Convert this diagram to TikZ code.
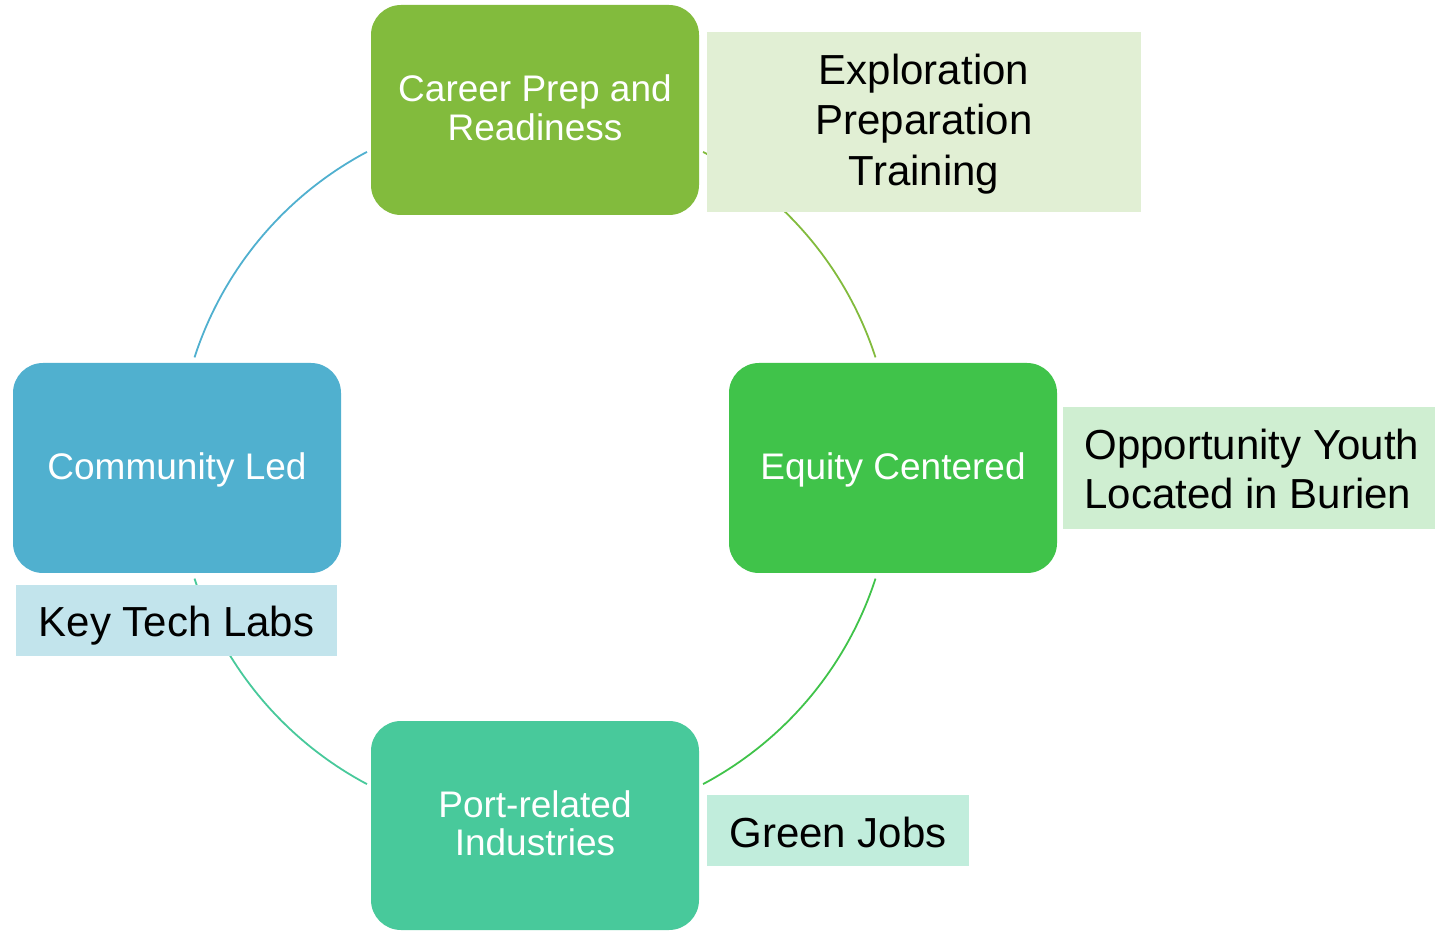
\documentclass[tikz,border=0pt]{standalone}
\usepackage{fontspec}
\setmainfont{Liberation Sans}
\usetikzlibrary{calc}
\definecolor{cCareer}{HTML}{82BB3D}
\definecolor{cComm}{HTML}{50B0CF}
\definecolor{cEquity}{HTML}{40C34A}
\definecolor{cPort}{HTML}{48C99B}
\definecolor{tExpl}{HTML}{E1EFD4}
\definecolor{tOpp}{HTML}{CFEED1}
\definecolor{tKey}{HTML}{C2E4EC}
\definecolor{tGreen}{HTML}{C1EDDC}
\newcommand{\lowerby}[2]{\raisebox{-#1}[\height][\depth]{#2}}
\tikzset{
  mainbox/.style={rectangle, rounded corners=30pt, minimum width=328pt, minimum height=210pt,
    inner sep=0pt, text=white, font=\fontsize{37}{39.5}\selectfont},
  notebox/.style={rectangle, inner sep=0pt, text=black, font=\fontsize{42}{50.6}\selectfont},
  ring/.style={line width=1.8pt}
}
\begin{document}
\begin{tikzpicture}[x=1pt,y=1pt]
\useasboundingbox (0,0) rectangle (1435,930);
\coordinate (ctr) at (535,462);
% ring arcs
\draw[ring, cComm] ($(ctr)+(118:358)$) arc[start angle=118, end angle=162, radius=358];
\draw[ring, cCareer] ($(ctr)+(62:358)$) arc[start angle=62, end angle=18, radius=358];
\draw[ring, cEquity] ($(ctr)+(-18:358)$) arc[start angle=-18, end angle=-62, radius=358];
\draw[ring, cPort] ($(ctr)+(-118:358)$) arc[start angle=-118, end angle=-162, radius=358];
% main boxes
\node[mainbox, fill=cCareer] (career) at (535,820)
  {\lowerby{3.3pt}{\begin{tabular}{@{}c@{}}Career Prep and\\Readiness\end{tabular}}};
\node[mainbox, fill=cComm, text height=24pt, text depth=0pt] (comm) at (177,462) {Community Led};
\node[mainbox, fill=cEquity, text height=24pt, text depth=0pt] (equity) at (893,462) {Equity Centered};
\node[mainbox, fill=cPort, minimum height=209pt, font=\fontsize{37}{37.7}\selectfont] (port) at (535,104.5)
  {\lowerby{3.1pt}{\begin{tabular}{@{}c@{}}Port-related\\Industries\end{tabular}}};
% note boxes
\node[notebox, fill=tExpl, minimum width=434pt, minimum height=180pt] (expl) at (924,808)
  {\lowerby{2.8pt}{\begin{tabular}{@{}c@{}}Exploration\\Preparation\\Training\end{tabular}}};
\node[notebox, fill=tOpp, anchor=west, minimum width=372pt, minimum height=122pt, font=\fontsize{42}{48.5}\selectfont] (opp) at (1063,462)
  {\hspace*{5pt}\lowerby{6.5pt}{\begin{tabular}{@{}l@{}}Opportunity Youth\\Located in Burien\end{tabular}}};
\node[notebox, fill=tKey, minimum width=321pt, minimum height=71pt, text height=32.4pt, text depth=0pt] (key) at (176.5,309.5) {Key Tech Labs};
\node[notebox, fill=tGreen, minimum width=262pt, minimum height=71pt, text height=34pt, text depth=0pt] (green) at (838,99.5) {Green Jobs};
\end{tikzpicture}
\end{document}
